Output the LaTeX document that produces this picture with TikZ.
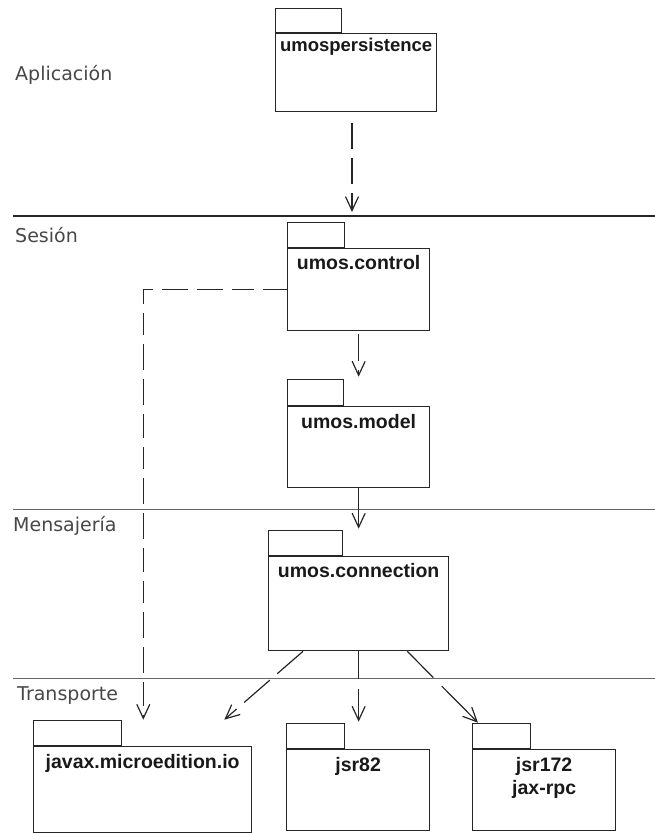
\documentclass[tikz,border=0pt]{standalone}
\usepackage{fontspec}
\setmainfont{Liberation Sans}
\newfontfamily\layerfont{DejaVu Sans}
\usetikzlibrary{arrows.meta}
\begin{document}
\begin{tikzpicture}[x=1pt,y=-1pt,
  box/.style={draw=black!85, line width=1.3pt, anchor=north west, inner sep=0pt},
  tab/.style={draw=black!85, line width=1.3pt, anchor=south west, inner sep=0pt, minimum height=24pt},
  pkgname/.style={font=\bfseries\fontsize{19.5}{23}\selectfont, text=black!90, anchor=north, inner sep=0pt, align=center},
  layer/.style={font=\layerfont\fontsize{19}{21}\selectfont, text=black!72, anchor=west, inner sep=0pt},
  sep/.style={draw=black!60, line width=1pt},
  topsep/.style={draw=black!85, line width=2pt},
  tip/.style={-{Straight Barb[length=14pt,width=13pt,line width=1.2pt]}},
  use/.style={draw=black!85, line width=1.2pt, tip},
  dep/.style={use, dash pattern=on 26pt off 9pt}
]
\useasboundingbox (0,0) rectangle (655,833);

% layer separators and layer names
\draw[topsep] (13,215.5) -- (655,215.5);
\draw[sep] (13,509) -- (655,509);
\draw[sep] (13,678) -- (655,678);
\node[layer] (lapp) at (15,75) {Aplicación};
\node[layer] (lses) at (15,235) {Sesión};
\node[layer] (lmsg) at (13,526) {Mensajería};
\node[layer] (ltra) at (17,696) {Transporte};

% packages: body, tab and name
\node[box, minimum width=161pt, minimum height=78pt] (pers) at (275,33) {};
\node[tab, minimum width=66pt] (persT) at (pers.north west) {};
\node[pkgname, font=\bfseries\fontsize{18.5}{22}\selectfont] (persN) at ([yshift=-5pt]pers.north) {umospersistence};

\node[box, minimum width=142pt, minimum height=82pt] (ctrl) at (287,248) {};
\node[tab, minimum width=57pt, minimum height=25pt] (ctrlT) at (ctrl.north west) {};
\node[pkgname] (ctrlN) at ([yshift=-7pt]ctrl.north) {umos.control};

\node[box, minimum width=142pt, minimum height=81pt] (model) at (287,406) {};
\node[tab, minimum width=56pt, minimum height=26pt] (modelT) at (model.north west) {};
\node[pkgname] (modelN) at ([yshift=-8pt]model.north) {umos.model};

\node[box, minimum width=180pt, minimum height=94pt] (conn) at (268,556) {};
\node[tab, minimum width=74pt, minimum height=25pt] (connT) at (conn.north west) {};
\node[pkgname] (connN) at ([yshift=-7pt]conn.north) {umos.connection};

\node[box, minimum width=218pt, minimum height=86pt] (javax) at (33,746) {};
\node[tab, minimum width=88pt, minimum height=25pt] (javaxT) at (javax.north west) {};
\node[pkgname] (javaxN) at ([yshift=-8pt]javax.north) {javax.microedition.io};

\node[box, minimum width=143pt, minimum height=81pt] (jsrA) at (286,749) {};
\node[tab, minimum width=58pt, minimum height=25pt] (jsrAT) at (jsrA.north west) {};
\node[pkgname] (jsrAN) at ([yshift=-8pt]jsrA.north) {jsr82};

\node[box, minimum width=143pt, minimum height=81pt] (jsrB) at (472,749) {};
\node[tab, minimum width=58pt, minimum height=25pt] (jsrBT) at (jsrB.north west) {};
\node[pkgname] (jsrBN) at ([yshift=-8pt]jsrB.north) {jsr172\\[0pt]jax-rpc};

% dependencies
\coordinate (persTip) at (352,212);
\draw[dep, shorten <=11pt] (pers.south -| persTip) -- (persTip);

\draw[dep, dash pattern=on 27pt off 9pt, shorten <=3pt, shorten >=2pt]
  (ctrl.south) -- (ctrl.south |- modelT.north);

\draw[use, shorten >=1pt] (model.south) -- (model.south |- connT.north);

\draw[dep, dash pattern=on 24pt off 9pt on 22pt off 9pt on 26pt off 9pt on 26pt off 9pt]
  (ctrl.west) -| ([xshift=21pt]javaxT.north east);

\draw[dep, dash pattern=on 34pt off 10pt]
  ([xshift=35pt]conn.south west) -- ([xshift=102pt]javaxT.north east);

\draw[use, dash pattern=on 28pt off 10pt on 60pt off 0pt, shorten >=1pt]
  (conn.south) -- (conn.south |- jsrAT.north);

\draw[use, dash pattern=on 37pt off 12pt on 80pt off 0pt]
  ([xshift=-42pt]conn.south east) -- ([xshift=6pt]jsrBT.north west);
\end{tikzpicture}
\end{document}
